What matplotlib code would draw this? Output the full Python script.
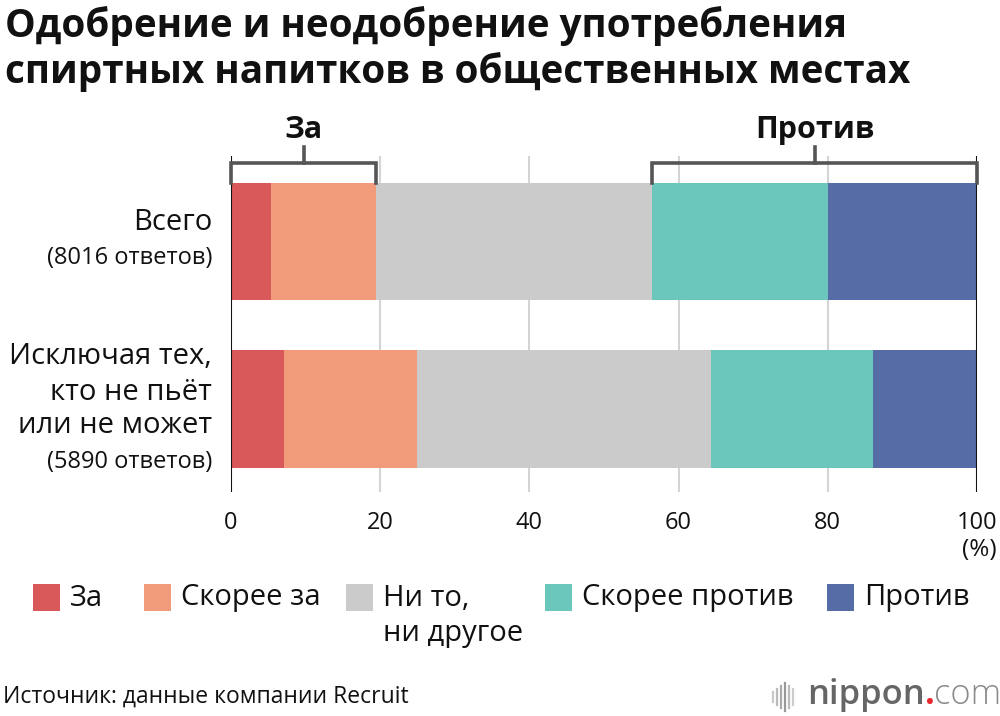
import matplotlib
matplotlib.use("Agg")
import matplotlib.pyplot as plt
from matplotlib.patches import Rectangle
import numpy as np

plt.rcParams['font.family'] = ['Open Sans', 'Noto Sans', 'DejaVu Sans']

# ---- data ----
title_lines = ["Одобрение и неодобрение употребления",
               "спиртных напитков в общественных местах"]
categories = ["Всего", "Исключая тех,\nкто не пьёт\nили не может"]
responses = ["(8016 ответов)", "(5890 ответов)"]
series_labels = ["За", "Скорее за", "Ни то,\nни другое", "Скорее против", "Против"]
series_colors = ["#d9585a", "#f29b7a", "#cbcbcb", "#6bc6bb", "#566ca6"]
values = {
    "За":            [5.4, 7.1],
    "Скорее за":     [14.1, 17.8],
    "Ни то,\nни другое": [37.0, 39.4],
    "Скорее против": [23.5, 21.8],
    "Против":        [20.0, 13.9],
}
xticks = [0, 20, 40, 60, 80, 100]
source_text = "Источник: данные компании Recruit"

W, H = 1000, 716
fig = plt.figure(figsize=(W / 100, H / 100), dpi=100)

def fx(px):
    return px / W

def fy(py):
    return 1 - py / H

ax_top, ax_bot = 156, 492
ax = fig.add_axes([fx(231), fy(ax_bot), fx(977) - fx(231), (ax_bot - ax_top) / H])

ypos = np.arange(len(categories))
left = np.zeros(len(categories))
for lab, col in zip(series_labels, series_colors):
    v = np.array(values[lab])
    ax.barh(ypos, v, left=left, height=0.70, color=col, zorder=2)
    left += v

c0, c1 = 241.5, 409.0
step = c1 - c0
ax.set_ylim((ax_bot - c0) / step, (ax_top - c0) / step)
ax.set_xlim(0, 100)

for s in ax.spines.values():
    s.set_visible(False)
ax.set_yticks([])
ax.set_xticks(xticks)
ax.set_xticklabels([str(t) for t in xticks], fontsize=17, color="#111111")
ax.tick_params(axis='x', length=0, pad=14)
for t in xticks:
    if t in (0, 100):
        ax.axvline(t, color="#111111", lw=1.5, zorder=3)
    else:
        ax.axvline(t, color="#d4d4d4", lw=1.5, zorder=1)

fig.text(fx(997), fy(550), "(%)", ha="right", va="center", fontsize=17.5, color="#111111")

# brackets
cum = np.cumsum([values[l][0] for l in series_labels])
pro_end = cum[1]
contra_start = cum[2]
ytop = (183 - c0) / step
yh = (163 - c0) / step
ytk = (147 - c0) / step
ylab = (130 - c0) / step
bc = "#555555"
for (a, b, txt) in [(0, pro_end, "За"), (contra_start, 100, "Против")]:
    ax.plot([a, a, b, b], [ytop, yh, yh, ytop], color=bc, lw=2.6, clip_on=False,
            solid_joinstyle='miter', zorder=4)
    m = (a + b) / 2
    ax.plot([m, m], [yh, ytk], color=bc, lw=2.6, clip_on=False, zorder=4)
    ax.text(m, ylab, txt, ha="center", va="center", fontsize=22, fontweight="bold",
            color="#111111", clip_on=False)

# category labels (line by line)
def lines_at(x, ys, text, **kw):
    for yy, line in zip(ys, text.split("\n")):
        fig.text(fx(x), fy(yy), line, ha="right", va="center", **kw)

lines_at(212, [222], categories[0], fontsize=21, color="#111111")
fig.text(fx(212), fy(258), responses[0], ha="right", va="center", fontsize=17, color="#111111")
lines_at(212, [357, 392, 426], categories[1], fontsize=21, color="#111111")
fig.text(fx(212), fy(462), responses[1], ha="right", va="center", fontsize=17, color="#111111")

# title
fig.text(fx(5), fy(26), title_lines[0], ha="left", va="center", fontsize=27.8,
         fontweight="bold", color="#111111")
fig.text(fx(5), fy(72), title_lines[1], ha="left", va="center", fontsize=27.8,
         fontweight="bold", color="#111111")

# legend
leg_px = [33, 144, 346, 545, 827]
for x0, lab, col in zip(leg_px, series_labels, series_colors):
    fig.patches.append(Rectangle((fx(x0), fy(611)), 27 / W, 27 / H, transform=fig.transFigure,
                                 facecolor=col, edgecolor="none"))
    for k, line in enumerate(lab.split("\n")):
        fig.text(fx(x0 + 37), fy(598 + 35 * k), line, ha="left", va="center",
                 fontsize=21, color="#111111")

# source
fig.text(fx(3), fy(697), source_text, ha="left", va="center", fontsize=16.5, color="#111111")

# logo
for i, (h, g) in enumerate(zip([10, 16, 22, 28, 22, 16], ["#c8c8c8", "#bbbbbb", "#aaaaaa", "#999999", "#bbbbbb", "#cccccc"])):
    xx = fx(773 + i * 4)
    fig.add_artist(plt.Line2D([xx, xx], [fy(697 + h / 2), fy(697 - h / 2)], color=g, lw=1.6,
                              transform=fig.transFigure))
t1 = fig.text(fx(807), fy(695), "nippon", ha="left", va="center", fontsize=24.8,
              fontweight="semibold", color="#666666")
fig.canvas.draw()
bb = t1.get_window_extent()
t2 = fig.text(bb.x1 / W, fy(695), ".", ha="left", va="center", fontsize=24.8, color="#e8262c",
              fontweight="bold")
fig.canvas.draw()
bb2 = t2.get_window_extent()
fig.text(bb2.x1 / W, fy(695), "com", ha="left", va="center", fontsize=24.8, color="#8a8a8a",
         fontweight="light")

fig.savefig("out.png", dpi=100)
